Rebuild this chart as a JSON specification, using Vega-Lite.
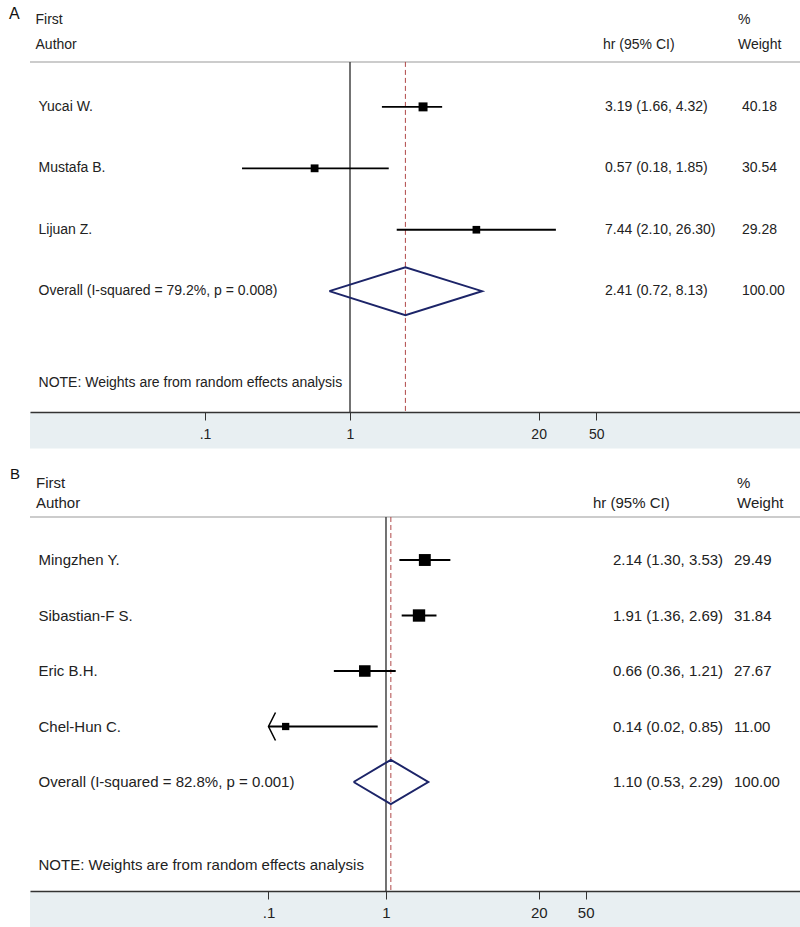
{
  "$schema": "https://vega.github.io/schema/vega-lite/v6.json",
  "padding": {"left": 8, "top": 0, "right": 0, "bottom": 0},
  "spacing": 6,
  "background": "white",
  "resolve": {"scale": {"size": "independent"}, "legend": {"size": "independent"}},
  "config": {
    "view": {"stroke": null},
    "font": "Liberation Sans",
    "axisY": {"disable": true}
  },
  "datasets": {
    "rowsA": [
      {"label": "Yucai W.", "row": 1, "hr": 3.19, "lo": 1.66, "hi": 4.32, "lo_line": 1.66, "weight": 40.18, "ci": "3.19 (1.66, 4.32)", "wt": "40.18", "kind": "study"},
      {"label": "Mustafa B.", "row": 2, "hr": 0.57, "lo": 0.18, "hi": 1.85, "lo_line": 0.18, "weight": 30.54, "ci": "0.57 (0.18, 1.85)", "wt": "30.54", "kind": "study"},
      {"label": "Lijuan Z.", "row": 3, "hr": 7.44, "lo": 2.10, "hi": 26.30, "lo_line": 2.10, "weight": 29.28, "ci": "7.44 (2.10, 26.30)", "wt": "29.28", "kind": "study"},
      {"label": "Overall  (I-squared = 79.2%, p = 0.008)", "row": 4, "hr": 2.41, "lo": 0.72, "hi": 8.13, "lo_line": 0.72, "weight": 100, "ci": "2.41 (0.72, 8.13)", "wt": "100.00", "kind": "overall"}
    ],
    "diamondA": [
      {"x": 0.72, "row": 4, "ord": 1},
      {"x": 2.41, "row": 3.61, "ord": 2},
      {"x": 8.13, "row": 4, "ord": 3},
      {"x": 2.41, "row": 4.39, "ord": 4},
      {"x": 0.72, "row": 4, "ord": 5}
    ],
    "rowsB": [
      {"label": "Mingzhen Y.", "row": 1, "hr": 2.14, "lo": 1.30, "hi": 3.53, "lo_line": 1.30, "weight": 29.49, "ci": "2.14 (1.30, 3.53)", "wt": "29.49", "kind": "study", "arrow": false},
      {"label": "Sibastian-F S.", "row": 2, "hr": 1.91, "lo": 1.36, "hi": 2.69, "lo_line": 1.36, "weight": 31.84, "ci": "1.91 (1.36, 2.69)", "wt": "31.84", "kind": "study", "arrow": false},
      {"label": "Eric B.H.", "row": 3, "hr": 0.66, "lo": 0.36, "hi": 1.21, "lo_line": 0.36, "weight": 27.67, "ci": "0.66 (0.36, 1.21)", "wt": "27.67", "kind": "study", "arrow": false},
      {"label": "Chel-Hun C.", "row": 4, "hr": 0.14, "lo": 0.02, "hi": 0.85, "lo_line": 0.1, "weight": 11.00, "ci": "0.14 (0.02, 0.85)", "wt": "11.00", "kind": "study", "arrow": true},
      {"label": "Overall  (I-squared = 82.8%, p = 0.001)", "row": 5, "hr": 1.10, "lo": 0.53, "hi": 2.29, "lo_line": 0.53, "weight": 100, "ci": "1.10 (0.53, 2.29)", "wt": "100.00", "kind": "overall", "arrow": false}
    ],
    "diamondB": [
      {"x": 0.53, "row": 5, "ord": 1},
      {"x": 1.10, "row": 4.6, "ord": 2},
      {"x": 2.29, "row": 5, "ord": 3},
      {"x": 1.10, "row": 5.4, "ord": 4},
      {"x": 0.53, "row": 5, "ord": 5}
    ]
  },
  "vconcat": [
    {
      "width": 771,
      "height": 412,
      "layer": [
        {
          "data": {"values": [{}]},
          "mark": {"type": "rect", "color": "#e8eff2"},
          "encoding": {
            "x": {"datum": 0.006209, "type": "quantitative", "title": null,
              "scale": {"type": "log", "domain": [0.006209, 1289.5], "nice": false},
              "axis": {"values": [0.1, 1, 20, 50], "labelExpr": "datum.value == 0.1 ? '.1' : format(datum.value, '~g')", "grid": false, "domainColor": "#333333", "domainWidth": 1.5, "tickColor": "#333333", "tickWidth": 1, "tickSize": 8, "labelPadding": 7, "labelFontSize": 14, "labelColor": "#222222", "labelFont": "Liberation Sans", "labelFlush": false, "labelOverlap": false, "zindex": 1}},
            "x2": {"datum": 1289.5},
            "y": {"datum": 5.967, "type": "quantitative", "scale": {"domain": [-0.74, 5.967], "reverse": true, "nice": false, "zero": false}, "axis": null},
            "y2": {"datum": 6.561}
          }
        },
        {
          "data": {"values": [{}]},
          "mark": {"type": "rule", "color": "#cccccc", "strokeWidth": 2},
          "encoding": {"y": {"datum": 0.268, "type": "quantitative", "axis": null}}
        },
        {
          "data": {"values": [{}]},
          "mark": {"type": "rule", "color": "#444444", "strokeWidth": 1.5},
          "encoding": {
            "x": {"datum": 1, "type": "quantitative", "title": null},
            "y": {"datum": 0.268, "type": "quantitative", "axis": null},
            "y2": {"datum": 5.967}
          }
        },
        {
          "data": {"values": [{}]},
          "mark": {"type": "rule", "color": "#b04848", "strokeWidth": 1, "strokeDash": [5, 3]},
          "encoding": {
            "x": {"datum": 2.41, "type": "quantitative", "title": null},
            "y": {"datum": 0.268, "type": "quantitative", "axis": null},
            "y2": {"datum": 5.967}
          }
        },
        {
          "data": {"name": "rowsA"},
          "transform": [{"filter": "datum.kind == 'study'"}],
          "mark": {"type": "rule", "color": "black", "strokeWidth": 1.8},
          "encoding": {
            "x": {"field": "lo_line", "type": "quantitative", "title": null},
            "x2": {"field": "hi"},
            "y": {"field": "row", "type": "quantitative", "axis": null}
          }
        },
        {
          "data": {"name": "rowsA"},
          "transform": [{"filter": "datum.kind == 'study'"}],
          "mark": {"type": "point", "shape": "square", "filled": true, "color": "black", "opacity": 1},
          "encoding": {
            "x": {"field": "hr", "type": "quantitative", "title": null},
            "y": {"field": "row", "type": "quantitative", "axis": null},
            "size": {"field": "weight", "type": "quantitative", "scale": {"domain": [0, 100], "range": [0, 200]}, "legend": null}
          }
        },
        {
          "data": {"name": "diamondA"},
          "mark": {"type": "line", "color": "#1c2468", "strokeWidth": 2, "strokeJoin": "miter"},
          "encoding": {
            "x": {"field": "x", "type": "quantitative", "title": null},
            "y": {"field": "row", "type": "quantitative", "axis": null},
            "order": {"field": "ord", "type": "quantitative"}
          }
        },
        {
          "data": {"name": "rowsA"},
          "mark": {"type": "text", "align": "left", "baseline": "middle", "fontSize": 14, "color": "#222222"},
          "encoding": {
            "x": {"datum": 0.007108, "type": "quantitative", "title": null},
            "y": {"field": "row", "type": "quantitative", "axis": null},
            "text": {"field": "label"}
          }
        },
        {
          "data": {"name": "rowsA"},
          "mark": {"type": "text", "align": "left", "baseline": "middle", "fontSize": 14, "color": "#222222"},
          "encoding": {
            "x": {"datum": 57.36, "type": "quantitative", "title": null},
            "y": {"field": "row", "type": "quantitative", "axis": null},
            "text": {"field": "ci"}
          }
        },
        {
          "data": {"name": "rowsA"},
          "mark": {"type": "text", "align": "left", "baseline": "middle", "fontSize": 14, "color": "#222222"},
          "encoding": {
            "x": {"datum": 505.1, "type": "quantitative", "title": null},
            "y": {"field": "row", "type": "quantitative", "axis": null},
            "text": {"field": "wt"}
          }
        },
        {
          "data": {"values": [{}]},
          "mark": {"type": "text", "align": "left", "baseline": "middle", "fontSize": 14, "color": "#222222"},
          "encoding": {
            "x": {"datum": 0.006776, "type": "quantitative", "title": null},
            "y": {"datum": -0.415, "type": "quantitative", "axis": null},
            "text": {"value": "First"}
          }
        },
        {
          "data": {"values": [{}]},
          "mark": {"type": "text", "align": "left", "baseline": "middle", "fontSize": 14, "color": "#222222"},
          "encoding": {
            "x": {"datum": 0.006776, "type": "quantitative", "title": null},
            "y": {"datum": -0.008, "type": "quantitative", "axis": null},
            "text": {"value": "Author"}
          }
        },
        {
          "data": {"values": [{}]},
          "mark": {"type": "text", "align": "left", "baseline": "middle", "fontSize": 14, "color": "#222222"},
          "encoding": {
            "x": {"datum": 55.57, "type": "quantitative", "title": null},
            "y": {"datum": -0.008, "type": "quantitative", "axis": null},
            "text": {"value": "hr (95% CI)"}
          }
        },
        {
          "data": {"values": [{}]},
          "mark": {"type": "text", "align": "left", "baseline": "middle", "fontSize": 14, "color": "#222222"},
          "encoding": {
            "x": {"datum": 474.2, "type": "quantitative", "title": null},
            "y": {"datum": -0.415, "type": "quantitative", "axis": null},
            "text": {"value": "%"}
          }
        },
        {
          "data": {"values": [{}]},
          "mark": {"type": "text", "align": "left", "baseline": "middle", "fontSize": 14, "color": "#222222"},
          "encoding": {
            "x": {"datum": 474.2, "type": "quantitative", "title": null},
            "y": {"datum": -0.008, "type": "quantitative", "axis": null},
            "text": {"value": "Weight"}
          }
        },
        {
          "data": {"values": [{}]},
          "mark": {"type": "text", "align": "left", "baseline": "middle", "fontSize": 14, "color": "#222222"},
          "encoding": {
            "x": {"datum": 0.007108, "type": "quantitative", "title": null},
            "y": {"datum": 5.488, "type": "quantitative", "axis": null},
            "text": {"value": "NOTE: Weights are from random effects analysis"}
          }
        },
        {
          "data": {"values": [{}]},
          "mark": {"type": "text", "align": "left", "baseline": "middle", "fontSize": 16, "color": "#111111"},
          "encoding": {
            "x": {"datum": 0.004448, "type": "quantitative", "title": null},
            "y": {"datum": -0.504, "type": "quantitative", "axis": null},
            "text": {"value": "A"}
          }
        }
      ]
    },
    {
      "width": 771,
      "height": 436,
      "layer": [
        {
          "data": {"values": [{}]},
          "mark": {"type": "rect", "color": "#e8eff2"},
          "encoding": {
            "x": {"datum": 0.000934, "type": "quantitative", "title": null,
              "scale": {"type": "log", "domain": [0.000934, 3403], "nice": false},
              "axis": {"values": [0.1, 1, 20, 50], "labelExpr": "datum.value == 0.1 ? '.1' : format(datum.value, '~g')", "grid": false, "domainColor": "#333333", "domainWidth": 1.5, "tickColor": "#333333", "tickWidth": 1, "tickSize": 8, "labelPadding": 6, "labelFontSize": 15, "labelColor": "#222222", "labelFont": "Liberation Sans", "labelFlush": false, "labelOverlap": false, "zindex": 1}},
            "x2": {"datum": 3403},
            "y": {"datum": 6.964, "type": "quantitative", "scale": {"domain": [-0.892, 6.964], "reverse": true, "nice": false, "zero": false}, "axis": null},
            "y2": {"datum": 7.613}
          }
        },
        {
          "data": {"values": [{}]},
          "mark": {"type": "rule", "color": "#cccccc", "strokeWidth": 2},
          "encoding": {"y": {"datum": 0.225, "type": "quantitative", "axis": null}}
        },
        {
          "data": {"values": [{}]},
          "mark": {"type": "rule", "color": "#444444", "strokeWidth": 1.5},
          "encoding": {
            "x": {"datum": 1, "type": "quantitative", "title": null},
            "y": {"datum": 0.225, "type": "quantitative", "axis": null},
            "y2": {"datum": 6.964}
          }
        },
        {
          "data": {"values": [{}]},
          "mark": {"type": "rule", "color": "#b04848", "strokeWidth": 1, "strokeDash": [5, 3]},
          "encoding": {
            "x": {"datum": 1.10, "type": "quantitative", "title": null},
            "y": {"datum": 0.225, "type": "quantitative", "axis": null},
            "y2": {"datum": 6.964}
          }
        },
        {
          "data": {"name": "rowsB"},
          "transform": [{"filter": "datum.kind == 'study'"}],
          "mark": {"type": "rule", "color": "black", "strokeWidth": 1.8},
          "encoding": {
            "x": {"field": "lo_line", "type": "quantitative", "title": null},
            "x2": {"field": "hi"},
            "y": {"field": "row", "type": "quantitative", "axis": null}
          }
        },
        {
          "data": {"name": "rowsB"},
          "transform": [{"filter": "datum.arrow"}],
          "mark": {"type": "point", "shape": "M0.5,-1L0,0L0.5,1", "filled": false, "color": "black", "strokeWidth": 1.5, "size": 784, "opacity": 1},
          "encoding": {
            "x": {"field": "lo_line", "type": "quantitative", "title": null},
            "y": {"field": "row", "type": "quantitative", "axis": null}
          }
        },
        {
          "data": {"name": "rowsB"},
          "transform": [{"filter": "datum.kind == 'study'"}],
          "mark": {"type": "point", "shape": "square", "filled": true, "color": "black", "opacity": 1},
          "encoding": {
            "x": {"field": "hr", "type": "quantitative", "title": null},
            "y": {"field": "row", "type": "quantitative", "axis": null},
            "size": {"field": "weight", "type": "quantitative", "scale": {"domain": [0, 100], "range": [0, 480]}, "legend": null}
          }
        },
        {
          "data": {"name": "diamondB"},
          "mark": {"type": "line", "color": "#1c2468", "strokeWidth": 2, "strokeJoin": "miter"},
          "encoding": {
            "x": {"field": "x", "type": "quantitative", "title": null},
            "y": {"field": "row", "type": "quantitative", "axis": null},
            "order": {"field": "ord", "type": "quantitative"}
          }
        },
        {
          "data": {"name": "rowsB"},
          "mark": {"type": "text", "align": "left", "baseline": "middle", "fontSize": 15, "color": "#222222"},
          "encoding": {
            "x": {"datum": 0.001103, "type": "quantitative", "title": null},
            "y": {"field": "row", "type": "quantitative", "axis": null},
            "text": {"field": "label"}
          }
        },
        {
          "data": {"name": "rowsB"},
          "mark": {"type": "text", "align": "left", "baseline": "middle", "fontSize": 15, "color": "#222222"},
          "encoding": {
            "x": {"datum": 85.5, "type": "quantitative", "title": null},
            "y": {"field": "row", "type": "quantitative", "axis": null},
            "text": {"field": "ci"}
          }
        },
        {
          "data": {"name": "rowsB"},
          "mark": {"type": "text", "align": "left", "baseline": "middle", "fontSize": 15, "color": "#222222"},
          "encoding": {
            "x": {"datum": 915.5, "type": "quantitative", "title": null},
            "y": {"field": "row", "type": "quantitative", "axis": null},
            "text": {"field": "wt"}
          }
        },
        {
          "data": {"values": [{}]},
          "mark": {"type": "text", "align": "left", "baseline": "middle", "fontSize": 15, "color": "#222222"},
          "encoding": {
            "x": {"datum": 0.00105, "type": "quantitative", "title": null},
            "y": {"datum": -0.387, "type": "quantitative", "axis": null},
            "text": {"value": "First"}
          }
        },
        {
          "data": {"values": [{}]},
          "mark": {"type": "text", "align": "left", "baseline": "middle", "fontSize": 15, "color": "#222222"},
          "encoding": {
            "x": {"datum": 0.00105, "type": "quantitative", "title": null},
            "y": {"datum": -0.027, "type": "quantitative", "axis": null},
            "text": {"value": "Author"}
          }
        },
        {
          "data": {"values": [{}]},
          "mark": {"type": "text", "align": "left", "baseline": "middle", "fontSize": 15, "color": "#222222"},
          "encoding": {
            "x": {"datum": 57.77, "type": "quantitative", "title": null},
            "y": {"datum": -0.027, "type": "quantitative", "axis": null},
            "text": {"value": "hr (95% CI)"}
          }
        },
        {
          "data": {"values": [{}]},
          "mark": {"type": "text", "align": "left", "baseline": "middle", "fontSize": 15, "color": "#222222"},
          "encoding": {
            "x": {"datum": 970.8, "type": "quantitative", "title": null},
            "y": {"datum": -0.387, "type": "quantitative", "axis": null},
            "text": {"value": "%"}
          }
        },
        {
          "data": {"values": [{}]},
          "mark": {"type": "text", "align": "left", "baseline": "middle", "fontSize": 15, "color": "#222222"},
          "encoding": {
            "x": {"datum": 970.8, "type": "quantitative", "title": null},
            "y": {"datum": -0.027, "type": "quantitative", "axis": null},
            "text": {"value": "Weight"}
          }
        },
        {
          "data": {"values": [{}]},
          "mark": {"type": "text", "align": "left", "baseline": "middle", "fontSize": 15, "color": "#222222"},
          "encoding": {
            "x": {"datum": 0.001103, "type": "quantitative", "title": null},
            "y": {"datum": 6.496, "type": "quantitative", "axis": null},
            "text": {"value": "NOTE: Weights are from random effects analysis"}
          }
        },
        {
          "data": {"values": [{}]},
          "mark": {"type": "text", "align": "left", "baseline": "middle", "fontSize": 15, "color": "#111111"},
          "encoding": {
            "x": {"datum": 0.000631, "type": "quantitative", "title": null},
            "y": {"datum": -0.55, "type": "quantitative", "axis": null},
            "text": {"value": "B"}
          }
        }
      ]
    }
  ]
}
